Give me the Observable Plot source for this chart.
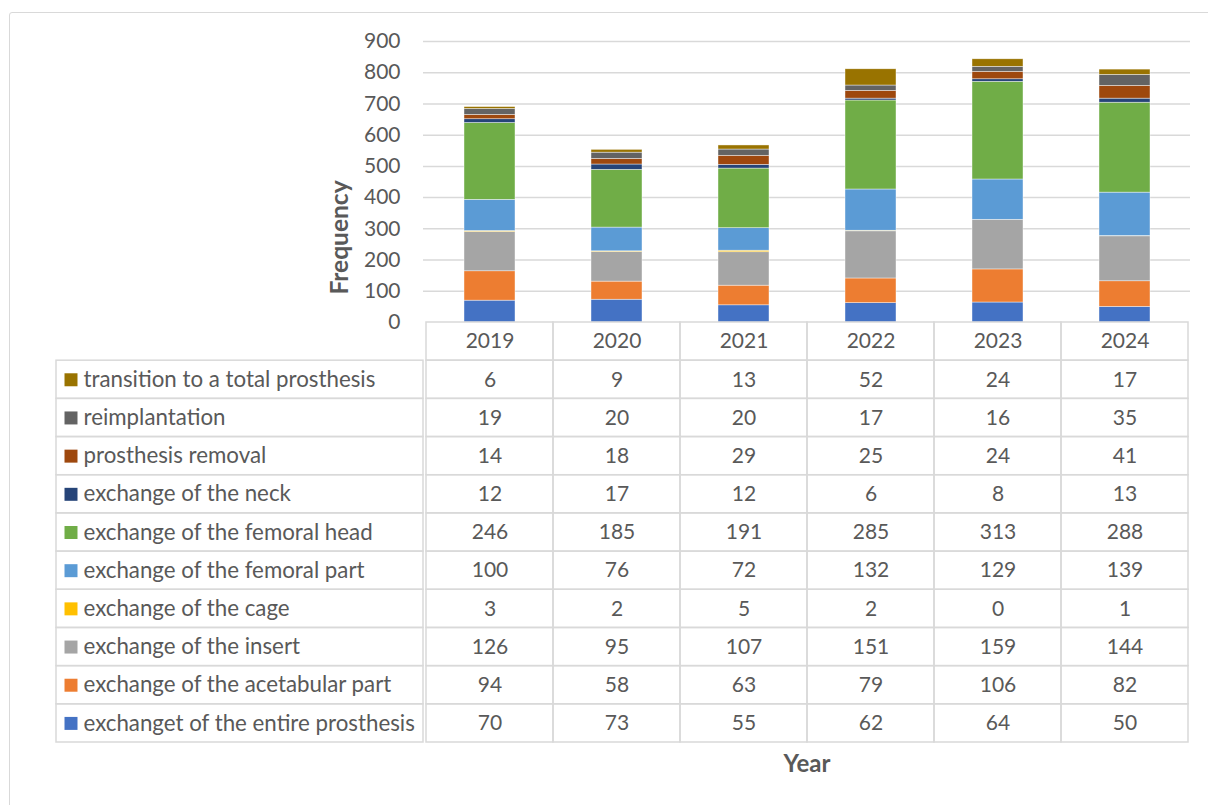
<!DOCTYPE html>
<html>
<head>
<meta charset="utf-8">
<script src="https://cdn.jsdelivr.net/npm/d3@7"></script>
<script src="https://cdn.jsdelivr.net/npm/@observablehq/plot@0.6"></script>
<style>
  html, body { margin: 0; padding: 0; background: #fff; }
  #wrap { position: relative; width: 1208px; height: 805px; overflow: hidden; font-family: Lato, sans-serif; }
  #border { position: absolute; left: 9px; top: 12px; width: 1300px; height: 900px; border: 1.5px solid #D9D9D9; border-radius: 3px; box-sizing: border-box; }
  #chart { position: absolute; left: 0; top: 0; }
  #table { position: absolute; left: 0; top: 320px; }
  svg { overflow: visible; }
</style>
</head>
<body>
<div id="wrap">
  <div id="border"></div>
  <div id="chart"></div>
  <div id="table"></div>
</div>
<script>
// ---- data ----
const years = ["2019", "2020", "2021", "2022", "2023", "2024"];
const yTicks = [0, 100, 200, 300, 400, 500, 600, 700, 800, 900];

// series, listed bottom of stack first
const entireProsthesis   = [70, 73, 55, 62, 64, 50];
const acetabularPart     = [94, 58, 63, 79, 106, 82];
const insertPart         = [126, 95, 107, 151, 159, 144];
const cagePart           = [3, 2, 5, 2, 0, 1];
const femoralPart        = [100, 76, 72, 132, 129, 139];
const femoralHead        = [246, 185, 191, 285, 313, 288];
const neckPart           = [12, 17, 12, 6, 8, 13];
const prosthesisRemoval  = [14, 18, 29, 25, 24, 41];
const reimplantation     = [19, 20, 20, 17, 16, 35];
const transitionTotal    = [6, 9, 13, 52, 24, 17];

const seriesNames = [
  "exchanget of the entire prosthesis",
  "exchange of the acetabular part",
  "exchange of the insert",
  "exchange of the cage",
  "exchange of the femoral part",
  "exchange of the femoral head",
  "exchange of the neck",
  "prosthesis removal",
  "reimplantation",
  "transition to a total prosthesis"
];
const seriesValues = [
  entireProsthesis, acetabularPart, insertPart, cagePart, femoralPart,
  femoralHead, neckPart, prosthesisRemoval, reimplantation, transitionTotal
];
const seriesColors = [
  "#4472C4", "#ED7D31", "#A5A5A5", "#FFC000", "#5B9BD5",
  "#70AD47", "#264478", "#9E480E", "#636363", "#997300"
];

// ---- derived tables ----
const long = [];
seriesNames.forEach((name, s) => {
  years.forEach((year, j) => long.push({series: name, year, value: seriesValues[s][j]}));
});

// table rows: header row (0) then series top-of-stack first
const tableOrder = seriesNames.slice().reverse();
const rows = tableOrder.map((name, i) => ({name, r: i + 1}));
const cells = [];
years.forEach(year => cells.push({year, r: 0, text: year}));
rows.forEach(row => {
  const s = seriesNames.indexOf(row.name);
  years.forEach((year, j) => cells.push({year, r: row.r, text: String(seriesValues[s][j])}));
});

const textColor = "#595959";
const gridColor = "#D9D9D9";

// ---- chart ----
const chart = Plot.plot({
  width: 1208,
  height: 340,
  marginLeft: 423,
  marginRight: 18,
  marginTop: 41,
  marginBottom: 18,
  style: {fontFamily: "Lato, sans-serif", fontSize: "21px", color: textColor, background: "transparent"},
  x: {type: "band", domain: years, paddingInner: 0.6, paddingOuter: 0.3, axis: null},
  y: {domain: [0, 900], axis: null},
  color: {domain: seriesNames, range: seriesColors},
  marks: [
    Plot.gridY(yTicks.filter(v => v > 0), {stroke: gridColor, strokeOpacity: 1, strokeWidth: 1.5}),
    Plot.axisY(yTicks, {tickSize: 0, tickPadding: 23, label: null, fontSize: 21, fill: textColor}),
    Plot.barY(long, {x: "year", y: "value", fill: "series", stroke: "white", strokeWidth: 0.6, strokeOpacity: 0.7}),
    Plot.text(["Frequency"], {text: d => d, frameAnchor: "left", textAnchor: "middle", lineAnchor: "middle",
      rotate: -90, dx: -83, dy: 55.5, fontWeight: "bold", fontSize: 24.5, fill: textColor})
  ]
});
document.getElementById("chart").appendChild(chart);

// ---- data table ----
const table = Plot.plot({
  width: 1208,
  height: 485,
  marginLeft: 423,
  marginRight: 18,
  marginTop: 2,
  marginBottom: 63,
  style: {fontFamily: "Lato, sans-serif", fontSize: "21px", color: textColor, background: "transparent"},
  x: {type: "band", domain: years, padding: 0, axis: null},
  y: {type: "linear", domain: [0, 11], reverse: true, axis: null},
  color: {domain: seriesNames, range: seriesColors},
  marks: [
    Plot.rect(rows, {y1: "r", y2: d => d.r + 1, insetLeft: -367, insetRight: 767,
      fill: "none", stroke: gridColor, strokeWidth: 1.5}),
    Plot.barY(cells, {x: "year", y1: "r", y2: d => d.r + 1, fill: "none", stroke: gridColor, strokeWidth: 1.5, inset: 0}),
    Plot.text(cells, {x: "year", y: d => d.r + 0.5, text: "text", fontSize: 21, fill: textColor}),
    Plot.dot(rows, {y: d => d.r + 0.5, frameAnchor: "left", dx: -352.5, symbol: "square", r: 7.33, fill: "name"}),
    Plot.text(rows, {y: d => d.r + 0.5, text: "name", frameAnchor: "left", textAnchor: "start", dx: -340,
      fontSize: 22.3, fill: textColor}),
    Plot.text(["Year"], {text: d => d, frameAnchor: "bottom", lineAnchor: "middle", dy: 22,
      fontWeight: "bold", fontSize: 24, fill: textColor})
  ]
});
document.getElementById("table").appendChild(table);
</script>
</body>
</html>
